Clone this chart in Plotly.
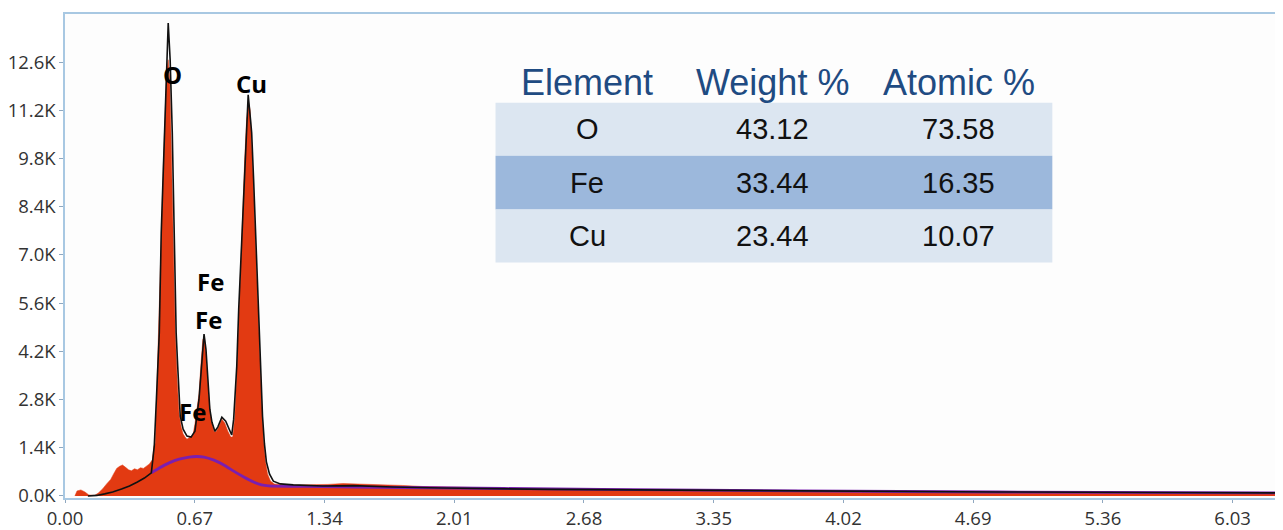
import plotly.graph_objects as go

# ---------------- data ----------------
# measured spectrum (red filled area): energy keV, counts
meas_kev = [0.051, 0.062, 0.082, 0.103, 0.123, 0.154, 0.174, 0.195, 0.215, 0.236,
            0.251, 0.267, 0.282, 0.297, 0.313, 0.328, 0.343, 0.359, 0.374, 0.390,
            0.405, 0.420, 0.436, 0.451, 0.459, 0.466, 0.472, 0.477, 0.487, 0.497,
            0.507, 0.518, 0.525, 0.533, 0.541, 0.548, 0.559, 0.569, 0.579, 0.589,
            0.600, 0.610, 0.620, 0.630, 0.646, 0.661, 0.671, 0.682, 0.692, 0.702,
            0.712, 0.720, 0.728, 0.738, 0.748, 0.759, 0.769, 0.779, 0.794, 0.810,
            0.825, 0.841, 0.856, 0.866, 0.877, 0.887, 0.897, 0.907, 0.917, 0.928,
            0.938, 0.948, 0.956, 0.964, 0.974, 0.984, 0.994, 1.005, 1.015, 1.025,
            1.035, 1.046, 1.061, 1.081, 1.128, 1.204, 1.281, 1.358, 1.435, 1.512,
            1.589, 1.666, 1.743, 1.845, 1.948, 2.153, 2.358, 2.563, 2.870, 3.178,
            3.485, 3.793, 4.100, 4.408, 4.716, 5.023, 5.331, 5.638, 5.946, 6.29]
meas_cts = [0, 145, 175, 115, 30, 15, 95, 210, 350, 480,
            640, 800, 860, 900, 830, 760, 730, 790, 760, 820,
            800, 860, 930, 1050, 1450, 1530, 2670, 3250, 4840, 7450,
            9480, 11220, 12380, 12670, 12090, 10350, 7450, 4840, 3390, 2380,
            2000, 1800, 1710, 1650, 1710, 1770, 2090, 2520, 2960, 3830,
            4550, 4610, 4120, 3250, 2520, 2090, 1880, 1860, 2000, 2230,
            2120, 1880, 1710, 1710, 2290, 3540, 5130, 6580, 8170, 9770,
            10930, 11420, 11220, 10350, 8900, 7300, 5710, 4260, 2810, 1650,
            1010, 640, 435, 350, 320, 320, 320, 335, 360, 350,
            335, 320, 305, 275, 260, 230, 215, 200, 190, 175,
            160, 145, 130, 115, 115, 100, 100, 87, 87, 72]

# fitted spectrum (black line)
fit_kev = [0.118, 0.164, 0.205, 0.246, 0.292, 0.333, 0.374, 0.410, 0.446, 0.461,
           0.472, 0.487, 0.497, 0.513, 0.523, 0.533, 0.543, 0.554, 0.564, 0.574,
           0.582, 0.595, 0.610, 0.630, 0.651, 0.671, 0.692, 0.707, 0.718, 0.728,
           0.738, 0.748, 0.759, 0.774, 0.789, 0.810, 0.830, 0.846, 0.861, 0.871,
           0.887, 0.897, 0.907, 0.923, 0.933, 0.946, 0.958, 0.964, 0.974, 0.984,
           0.994, 1.002, 1.012, 1.020, 1.030, 1.040, 1.056, 1.076, 1.112, 1.179,
           1.33, 1.49, 1.69, 1.95, 2.51, 3.28, 4.05, 4.82, 5.59, 6.29]
fit_cts = [0, 15, 60, 115, 200, 290, 405, 520, 670, 1450,
           2810, 4750, 7650, 10550, 12380, 13740, 12670, 10550, 7650, 4750,
           3770, 2320, 1940, 1740, 1710, 1880, 2810, 3970, 4700, 4260,
           3300, 2520, 2140, 1880, 2000, 2290, 2170, 1940, 1770, 2230,
           3770, 5420, 6670, 8900, 10060, 11650, 10930, 10550, 9190, 7650,
           6000, 4750, 3390, 2320, 1510, 990, 640, 430, 350, 320,
           290, 300, 260, 230, 190, 160, 130, 115, 100, 87]

# background (purple line)
bkg_kev = [0.446, 0.487, 0.538, 0.590, 0.641, 0.677, 0.718, 0.769, 0.820, 0.871,
           0.923, 0.974, 1.015, 1.051, 1.23, 1.74, 2.77, 3.79, 4.82, 6.29]
bkg_cts = [670, 810, 960, 1070, 1130, 1145, 1130, 1040, 900, 720,
           550, 405, 320, 290, 275, 245, 190, 145, 115, 87]

# peak labels
peak_labels = ["O", "Cu", "Fe", "Fe", "Fe"]
peak_x = [0.554, 0.963, 0.753, 0.743, 0.656]
peak_y = [12230, 11990, 6230, 5130, 2460]

# quantification table
tbl_header = ["Element", "Weight %", "Atomic %"]
tbl_elements = ["O", "Fe", "Cu"]
tbl_weight = ["43.12", "33.44", "23.44"]
tbl_atomic = ["73.58", "16.35", "10.07"]

# axis ticks
x_tickvals = [0.00, 0.67, 1.34, 2.01, 2.68, 3.35, 4.02, 4.69, 5.36, 6.03]
x_ticktext = ["0.00", "0.67", "1.34", "2.01", "2.68", "3.35", "4.02", "4.69", "5.36", "6.03"]
y_tickvals = [0, 1400, 2800, 4200, 5600, 7000, 8400, 9800, 11200, 12600]
y_ticktext = ["0.0K", "1.4K", "2.8K", "4.2K", "5.6K", "7.0K", "8.4K", "9.8K", "11.2K", "12.6K"]

# ---------------- figure ----------------
RED = "#E23A12"
AXIS = "#A8C8E2"
TICKFONT = dict(family="Open Sans, Noto Sans, sans-serif", size=18.5, color="#333333")
TABLE_FONT = "Liberation Sans, Arial, sans-serif"

fig = go.Figure()
fig.add_trace(go.Scatter(x=meas_kev, y=meas_cts, mode="lines", fill="tozeroy",
                         line=dict(color=RED, width=0.5), fillcolor=RED,
                         showlegend=False, hoverinfo="skip"))
fig.add_trace(go.Scatter(x=bkg_kev, y=bkg_cts, mode="lines",
                         line=dict(color="#7A1FB0", width=2.8, shape="spline", smoothing=0.6),
                         showlegend=False))
fig.add_trace(go.Scatter(x=fit_kev, y=fit_cts, mode="lines",
                         line=dict(color="#111111", width=1.6),
                         showlegend=False))

# peak labels
for t, x, y in zip(peak_labels, peak_x, peak_y):
    fig.add_annotation(x=x, y=y, text="<b>" + t + "</b>", showarrow=False, xref="x", yref="y",
                       font=dict(family="Open Sans, Noto Sans, sans-serif", size=24, color="#000000"),
                       xanchor="center", yanchor="middle")

# inset table (paper coordinates of the plot area, which spans x 58..1283, y 14..499 px)
def px_x(p):
    return (p - 58) / 1225.0

def px_y(p):
    return (499 - p) / 485.0

tbl_x0, tbl_x1 = px_x(491), px_x(1051)
row_edges = [px_y(103), px_y(156), px_y(210), px_y(263)]
col_centers = [px_x(583), px_x(770), px_x(957)]
header_y = px_y(83)
row_fill = ["#DCE6F1", "#9CB8DC", "#DCE6F1"]

for i in range(3):
    fig.add_shape(type="rect", xref="paper", yref="paper",
                  x0=tbl_x0, x1=tbl_x1, y0=row_edges[i + 1], y1=row_edges[i],
                  fillcolor=row_fill[i], line=dict(width=0), layer="above")

for j, h in enumerate(tbl_header):
    fig.add_annotation(x=col_centers[j], y=header_y, xref="paper", yref="paper",
                       text=h, showarrow=False, xanchor="center", yanchor="middle",
                       font=dict(family=TABLE_FONT, size=36, color="#1F4B82"))

columns = [tbl_elements, tbl_weight, tbl_atomic]
for j, col in enumerate(columns):
    for i, v in enumerate(col):
        yc = (row_edges[i] + row_edges[i + 1]) / 2
        fig.add_annotation(x=col_centers[j], y=yc, xref="paper", yref="paper",
                           text=v, showarrow=False, xanchor="center", yanchor="middle",
                           font=dict(family=TABLE_FONT, size=29, color="#111111"))

fig.update_xaxes(range=[0, 6.29], tickvals=x_tickvals, ticktext=x_ticktext,
                 showline=True, linecolor=AXIS, linewidth=1.5, mirror=True,
                 ticks="outside", ticklen=3, tickcolor="#8FA8C0", showgrid=False,
                 zeroline=False, tickfont=TICKFONT)
fig.update_yaxes(range=[-60, 14000], tickvals=y_tickvals, ticktext=y_ticktext,
                 showline=True, linecolor=AXIS, linewidth=1.5,
                 ticks="outside", ticklen=4, tickcolor="#8FA8C0", showgrid=False,
                 zeroline=False, tickfont=TICKFONT)

fig.update_layout(width=1275, height=522,
                  margin=dict(l=50, r=0, t=6, b=31, pad=0),
                  plot_bgcolor="#FDFDFD", paper_bgcolor="#FFFFFF")

fig.write_html("out.html")
